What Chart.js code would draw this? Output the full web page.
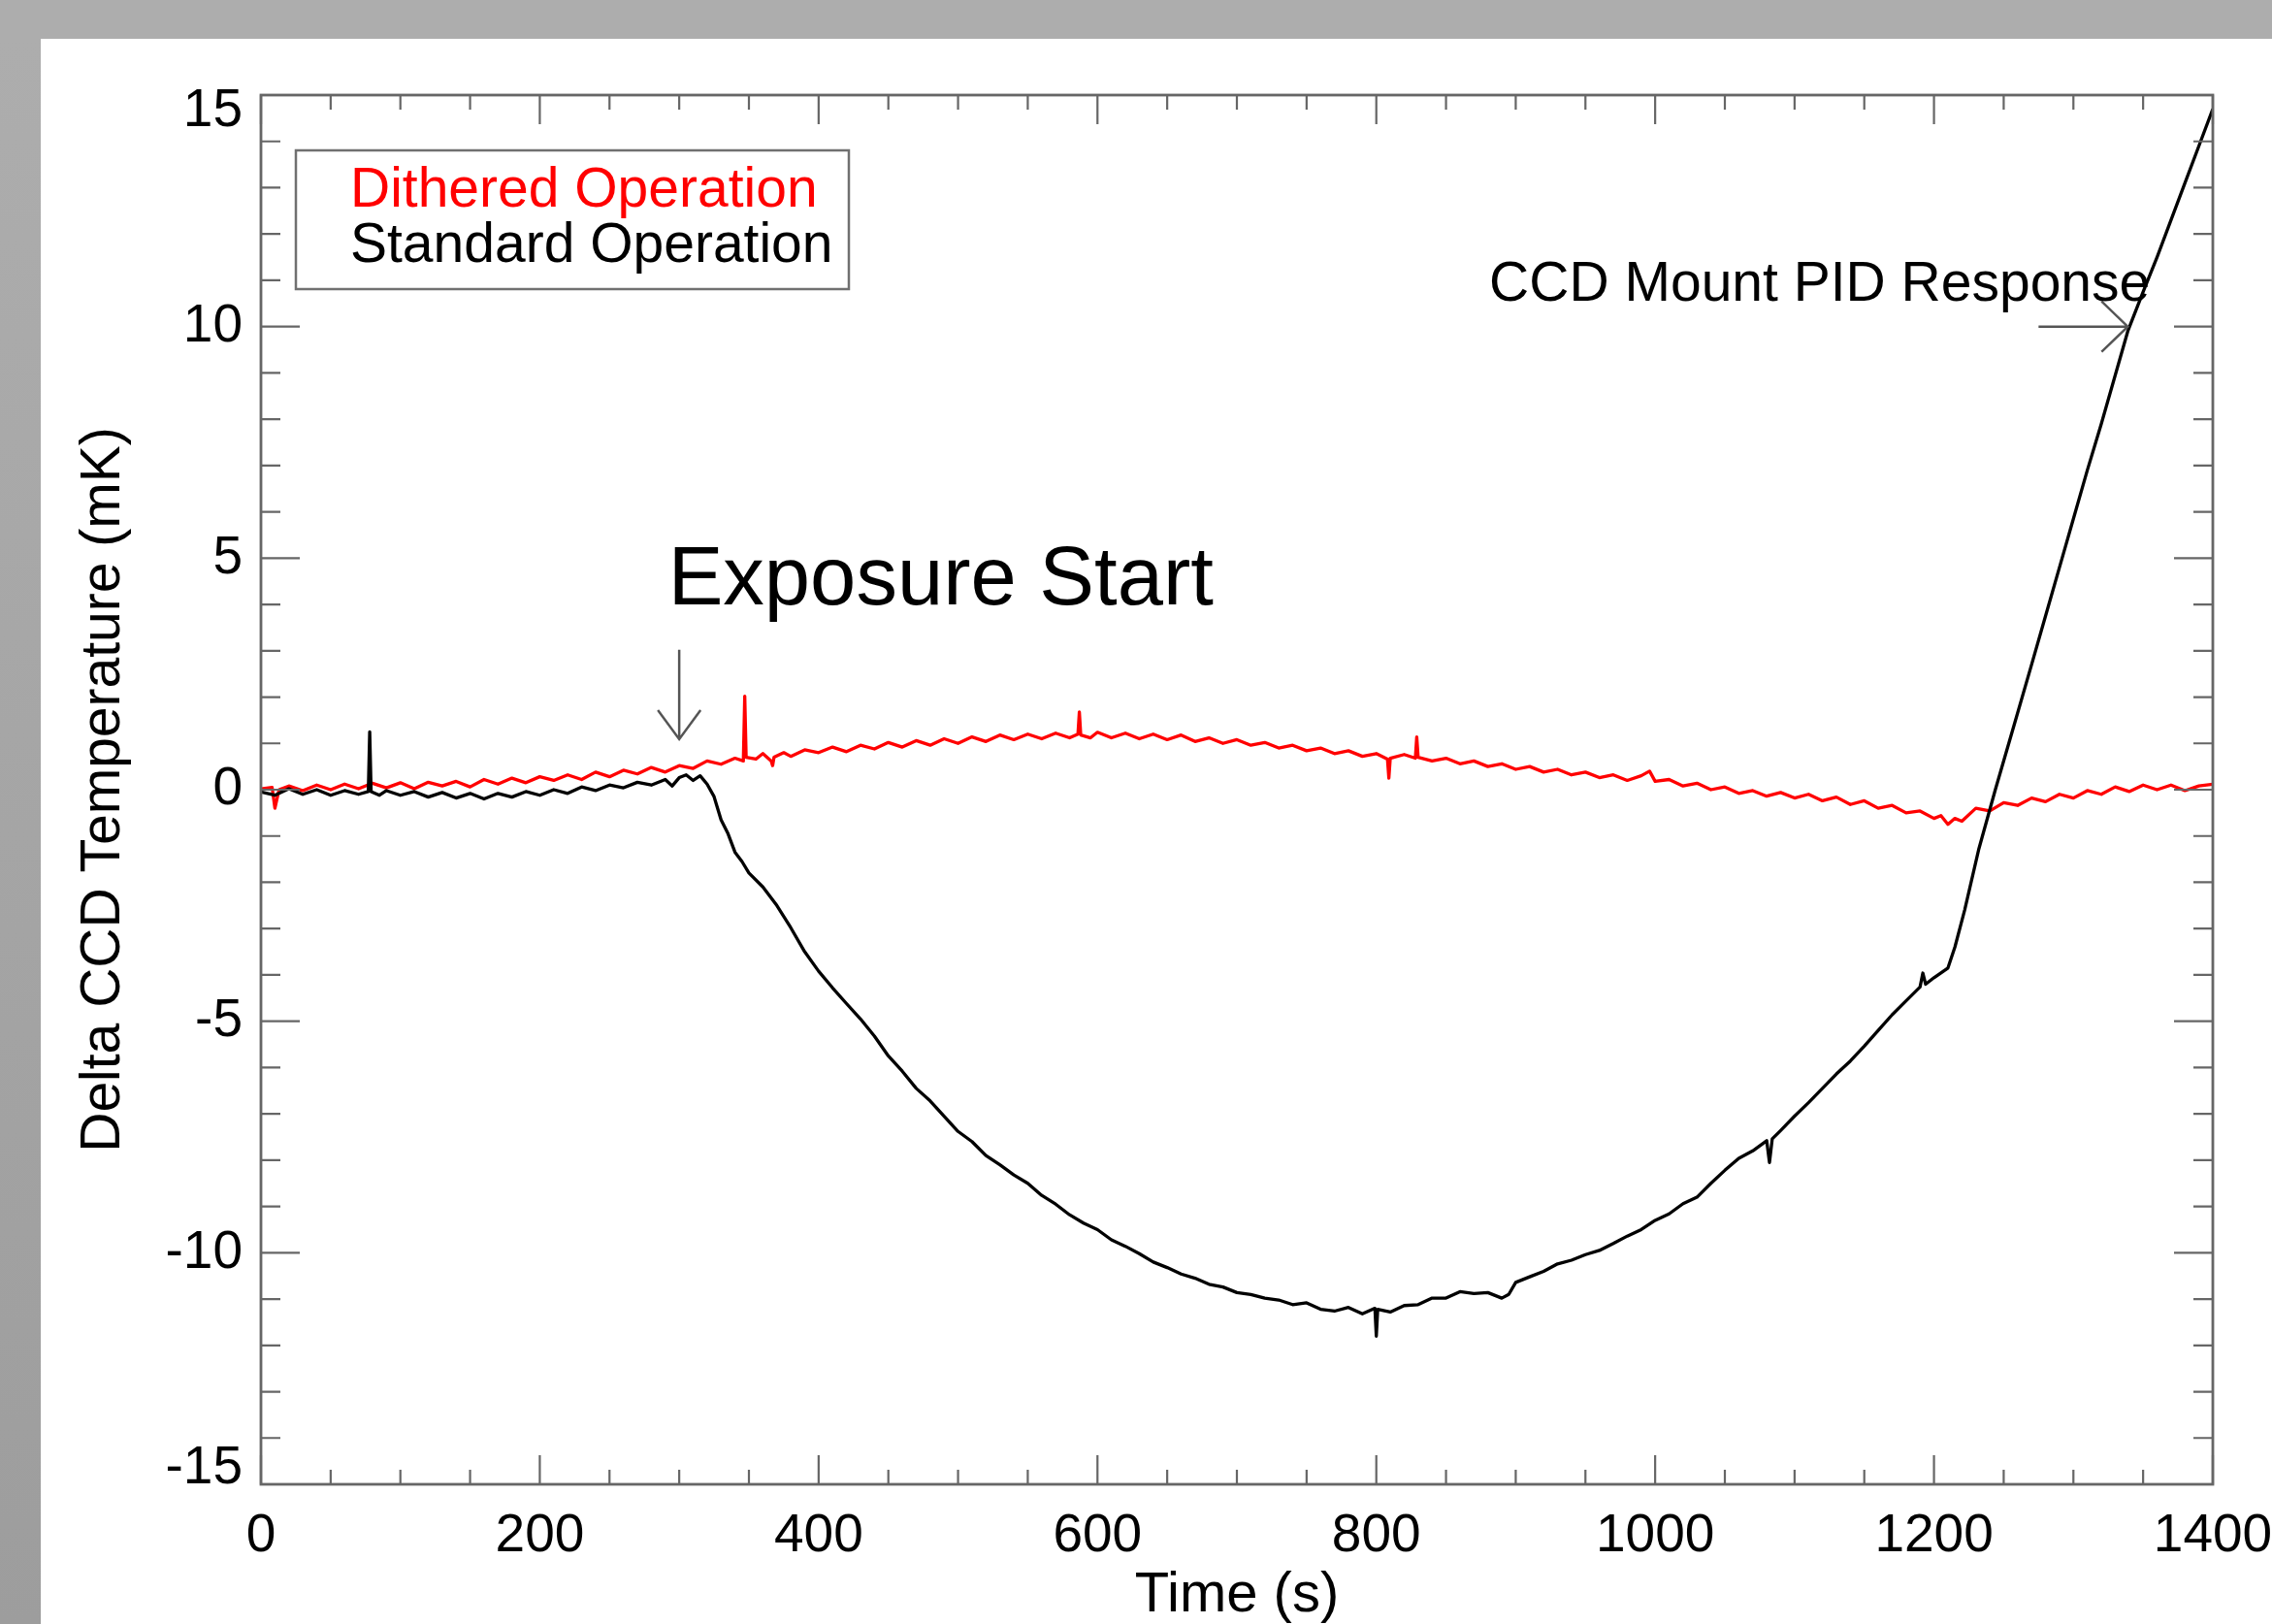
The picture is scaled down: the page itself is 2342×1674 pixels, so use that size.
<!DOCTYPE html>
<html><head><meta charset="utf-8">
<script src="https://cdn.jsdelivr.net/npm/chart.js@4.4.1/dist/chart.umd.min.js"></script>
<style>
html,body{margin:0;padding:0;width:2342px;height:1674px;overflow:hidden;background:#adadad;}
#leftband{position:absolute;left:0;top:40px;width:42px;height:1634px;background:linear-gradient(#adadad,#9d9d9d);}
#panel{position:absolute;left:42px;top:40px;width:2300px;height:1634px;background:#fff;overflow:hidden;}
canvas{position:absolute;left:0;top:0;}
</style></head><body>
<div id="leftband"></div>
<div id="panel"><canvas id="c" width="2380" height="1634"></canvas></div>
<script>
// ---- data ----
const seriesNames = ['Dithered Operation', 'Standard Operation'];
const xTickLabels = ['0','200','400','600','800','1000','1200','1400'];
const yTickLabels = ['-15','-10','-5','0','5','10','15'];

const dithTime = [0,8,10,13,20,30,40,50,60,70,80,90,100,110,120,130,140,150,160,170,180,190,200,210,220,230,240,250,260,270,280,290,300,310,320,330,340,346,347,348,355,360,366,367,368,375,380,390,400,410,420,430,440,450,460,470,480,490,500,510,520,530,540,550,560,570,580,586,587,588,595,600,610,620,630,640,650,660,670,680,690,700,710,720,730,740,750,760,770,780,790,800,808,809,810,820,828,829,830,840,850,860,870,880,890,900,910,920,930,940,950,960,970,980,990,996,1000,1010,1020,1030,1040,1050,1060,1070,1080,1090,1100,1110,1120,1130,1140,1150,1160,1170,1180,1190,1200,1205,1210,1215,1220,1230,1240,1250,1260,1270,1280,1290,1300,1310,1320,1330,1340,1350,1360,1370,1380,1390,1400];
const dithTemp = [0.02,0.05,-0.40,0.00,0.08,-0.02,0.10,0.00,0.12,0.02,0.14,0.04,0.15,0.02,0.16,0.08,0.18,0.06,0.22,0.12,0.25,0.15,0.28,0.20,0.32,0.22,0.38,0.28,0.42,0.34,0.48,0.38,0.52,0.46,0.62,0.55,0.68,0.62,2.02,0.70,0.66,0.78,0.62,0.52,0.70,0.80,0.72,0.86,0.80,0.92,0.82,0.96,0.88,1.02,0.92,1.06,0.96,1.10,1.00,1.14,1.04,1.18,1.08,1.20,1.10,1.22,1.12,1.20,1.68,1.18,1.12,1.24,1.12,1.22,1.10,1.20,1.08,1.18,1.04,1.12,1.00,1.08,0.96,1.02,0.90,0.96,0.84,0.90,0.78,0.84,0.72,0.78,0.66,0.25,0.68,0.76,0.68,1.14,0.70,0.62,0.68,0.56,0.62,0.50,0.56,0.44,0.50,0.38,0.44,0.32,0.38,0.26,0.32,0.20,0.30,0.40,0.18,0.22,0.08,0.14,0.00,0.06,-0.08,-0.02,-0.14,-0.06,-0.18,-0.10,-0.24,-0.16,-0.32,-0.24,-0.40,-0.34,-0.50,-0.46,-0.62,-0.56,-0.75,-0.62,-0.68,-0.40,-0.46,-0.28,-0.34,-0.18,-0.26,-0.10,-0.18,-0.02,-0.10,0.06,-0.04,0.10,0.00,0.10,-0.02,0.08,0.12];

const stdTime = [0,10,20,30,40,50,60,70,77,78,79,85,90,100,110,120,130,140,150,160,170,180,190,200,210,220,230,240,250,260,270,280,290,295,300,305,310,315,320,325,330,335,340,345,350,360,370,380,390,400,410,420,430,440,450,460,470,480,490,500,510,520,530,540,550,560,570,580,590,600,610,620,630,640,650,660,670,680,690,700,710,720,730,740,750,760,770,780,790,799,800,801,810,820,830,840,850,860,870,880,890,895,900,910,920,930,940,950,960,970,980,990,1000,1010,1020,1030,1040,1050,1060,1070,1080,1082,1084,1090,1100,1110,1120,1130,1140,1150,1160,1170,1180,1190,1192,1194,1200,1210,1215,1222,1232,1244,1258,1270,1280,1290,1300,1310,1320,1330,1339,1350,1360,1370,1380,1390,1400];
const stdTemp = [-0.05,-0.12,0.02,-0.10,0.00,-0.12,-0.02,-0.10,-0.04,1.25,-0.04,-0.12,-0.02,-0.12,-0.04,-0.16,-0.06,-0.18,-0.08,-0.20,-0.08,-0.16,-0.04,-0.12,0.00,-0.08,0.06,-0.02,0.10,0.04,0.16,0.10,0.22,0.08,0.26,0.32,0.20,0.30,0.12,-0.15,-0.65,-0.95,-1.35,-1.55,-1.80,-2.10,-2.50,-2.98,-3.50,-3.92,-4.28,-4.62,-4.95,-5.32,-5.75,-6.08,-6.45,-6.72,-7.05,-7.38,-7.60,-7.90,-8.10,-8.32,-8.50,-8.76,-8.95,-9.18,-9.36,-9.50,-9.72,-9.86,-10.02,-10.20,-10.32,-10.46,-10.55,-10.68,-10.74,-10.86,-10.90,-10.98,-11.02,-11.12,-11.08,-11.22,-11.26,-11.18,-11.32,-11.20,-11.80,-11.22,-11.28,-11.14,-11.12,-10.98,-10.98,-10.84,-10.88,-10.86,-10.98,-10.90,-10.64,-10.52,-10.40,-10.24,-10.16,-10.04,-9.95,-9.80,-9.64,-9.50,-9.30,-9.16,-8.94,-8.80,-8.50,-8.22,-7.96,-7.80,-7.58,-8.05,-7.54,-7.36,-7.05,-6.76,-6.45,-6.14,-5.86,-5.54,-5.20,-4.86,-4.56,-4.26,-3.96,-4.20,-4.06,-3.85,-3.40,-2.60,-1.30,0.00,1.45,2.70,3.75,4.80,5.85,6.90,7.90,8.95,9.90,10.75,11.50,12.30,13.10,13.90,14.70];

// ---- chart ----
const FONT = '"Liberation Sans", Arial, Helvetica, sans-serif';
Chart.defaults.font.family = FONT;
Chart.defaults.color = '#000';

const toPts = (ts, vs) => ts.map((t, i) => ({x: t, y: vs[i]}));

const decor = {
  id: 'decor',
  afterDatasetsDraw(chart) {
    const {ctx, chartArea: a, scales: {x, y}} = chart;
    ctx.save();
    // frame
    ctx.strokeStyle = '#666666';
    ctx.lineWidth = 2.8;
    ctx.strokeRect(a.left, a.top, a.right - a.left, a.bottom - a.top);
    // inward ticks on all four sides
    ctx.lineWidth = 2.2;
    ctx.beginPath();
    for (let v = 0; v <= 1400; v += 50) {
      const p = x.getPixelForValue(v);
      const L = (v % 200 === 0) ? 30 : 15;
      ctx.moveTo(p, a.bottom); ctx.lineTo(p, a.bottom - L);
      ctx.moveTo(p, a.top); ctx.lineTo(p, a.top + L);
    }
    for (let v = -15; v <= 15; v += 1) {
      const p = y.getPixelForValue(v);
      const L = (Math.abs(v) % 5 === 0) ? 40 : 20;
      ctx.moveTo(a.left, p); ctx.lineTo(a.left + L, p);
      ctx.moveTo(a.right, p); ctx.lineTo(a.right - L, p);
    }
    ctx.stroke();

    // legend
    const lx = a.left + 36, ly = a.top + 57;
    ctx.lineWidth = 2.5;
    ctx.strokeStyle = '#707070';
    ctx.strokeRect(lx, ly, 570, 143);
    ctx.font = '57px ' + FONT;
    ctx.textAlign = 'left';
    ctx.textBaseline = 'alphabetic';
    const ds = chart.data.datasets;
    ctx.fillStyle = ds[1].borderColor;
    ctx.fillText(ds[1].label, lx + 56, ly + 58);
    ctx.fillStyle = ds[0].borderColor;
    ctx.fillText(ds[0].label, lx + 56, ly + 115);

    // annotations
    ctx.strokeStyle = '#555';
    ctx.lineWidth = 2.5;
    // exposure start arrow (down)
    const ex = x.getPixelForValue(300), eTop = y.getPixelForValue(3.02), eTip = y.getPixelForValue(1.09);
    ctx.beginPath();
    ctx.moveTo(ex, eTop); ctx.lineTo(ex, eTip);
    ctx.moveTo(ex - 22, eTip - 30); ctx.lineTo(ex, eTip); ctx.lineTo(ex + 22, eTip - 30);
    ctx.stroke();
    // PID arrow (right)
    const py = y.getPixelForValue(10), pTail = x.getPixelForValue(1275), pTip = x.getPixelForValue(1339);
    ctx.beginPath();
    ctx.moveTo(pTail, py); ctx.lineTo(pTip, py);
    ctx.moveTo(pTip - 27, py - 26); ctx.lineTo(pTip, py); ctx.lineTo(pTip - 27, py + 26);
    ctx.stroke();

    ctx.fillStyle = '#000';
    ctx.font = '85px ' + FONT;
    ctx.fillText('Exposure Start', x.getPixelForValue(292), y.getPixelForValue(4.0));
    ctx.font = '57px ' + FONT;
    ctx.fillText('CCD Mount PID Response', x.getPixelForValue(881), y.getPixelForValue(10.56));
    ctx.restore();
  }
};

new Chart(document.getElementById('c'), {
  type: 'line',
  data: {
    datasets: [
      {label: seriesNames[1], data: toPts(stdTime, stdTemp), borderColor: '#000000', order: 0},
      {label: seriesNames[0], data: toPts(dithTime, dithTemp), borderColor: '#ff0000', order: 1}
    ]
  },
  options: {
    responsive: false,
    animation: false,
    parsing: true,
    elements: {
      line: {borderWidth: 3.3, tension: 0, fill: false, borderJoinStyle: 'round'},
      point: {radius: 0, hoverRadius: 0}
    },
    layout: {padding: {top: 58, right: 141, left: 0, bottom: 0}},
    plugins: {legend: {display: false}, tooltip: {enabled: false}, title: {display: false}},
    scales: {
      x: {
        type: 'linear', position: 'bottom', min: 0, max: 1400,
        grid: {display: false, drawTicks: false},
        border: {display: false},
        ticks: {stepSize: 200, padding: 21, color: '#000', font: {size: 55},
                maxRotation: 0, autoSkip: false,
                callback: (v, i) => xTickLabels[i]},
        title: {display: true, text: 'Time (s)', color: '#000',
                font: {size: 58, lineHeight: 1}, padding: {top: 0, bottom: 0}},
        afterFit: s => { s.height = 144; }
      },
      y: {
        type: 'linear', position: 'left', min: -15, max: 15,
        grid: {display: false, drawTicks: false},
        border: {display: false},
        ticks: {stepSize: 5, padding: 19, color: '#000', font: {size: 55, lineHeight: 0.6},
                autoSkip: false,
                callback: (v, i, arr) => i === 0 ? [yTickLabels[i], ''] :
                                         (i === arr.length - 1 ? ['', yTickLabels[i]] : yTickLabels[i])},
        title: {display: true, text: 'Delta CCD Temperature (mK)', color: '#000',
                font: {size: 57, lineHeight: 1}, padding: {top: 37, bottom: 0}},
        afterFit: s => { s.width = 227; }
      }
    }
  },
  plugins: [decor]
});
</script></body></html>
